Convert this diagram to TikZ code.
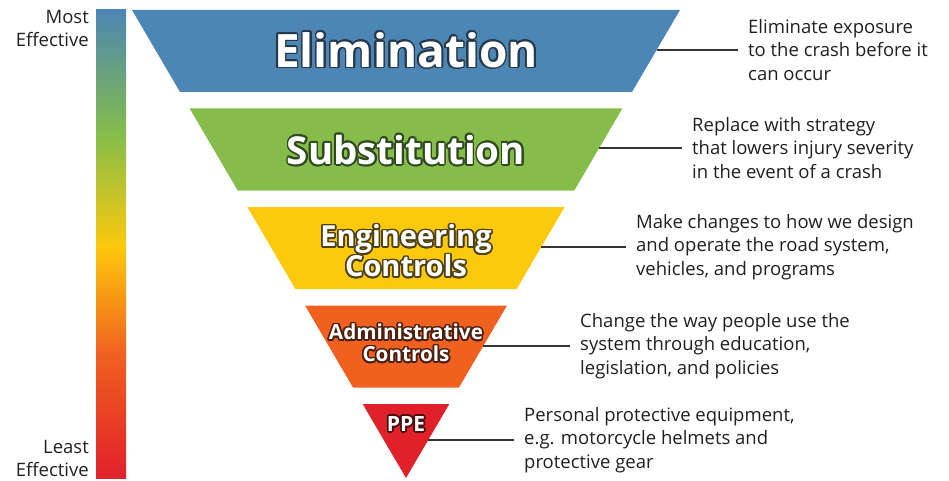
\documentclass[tikz,border=0pt]{standalone}
\usepackage{fontspec}
\setmainfont{Open Sans}
\usetikzlibrary{calc}
\definecolor{cblue}{HTML}{4C86B4}
\definecolor{cgreen}{HTML}{86BD4A}
\definecolor{cyellow}{HTML}{FDC90C}
\definecolor{corange}{HTML}{F0601F}
\definecolor{cred}{HTML}{E0212A}
\definecolor{oblue}{HTML}{26384A}
\definecolor{ogreen}{HTML}{2F4A1E}
\definecolor{oyellow}{HTML}{4D4215}
\definecolor{oorange}{HTML}{4A2010}
\definecolor{ored}{HTML}{4A1010}
\definecolor{txt}{HTML}{231F20}
\definecolor{linec}{HTML}{333333}
\newcommand\band[3]{%
  \fill[#3] ({132+0.5855*(#1-10)},#1) -- ({680-0.5855*(#1-10)},#1)
   -- ({680-0.5855*(#2-10)},#2) -- ({132+0.5855*(#2-10)},#2) -- cycle;}
\newcommand\titlenode[5]{% name, x, y, font, outline colour; text in \titletext
  \foreach \a in {0,20,...,340}
    \node[titletxt, font=#4, text=#5] at ($(#2,#3)+(\a:1.7pt)$) {\titletext};
  \node[titletxt, font=#4, text=white] (#1) at (#2,#3) {\titletext};}
\begin{document}
\begin{tikzpicture}[x=1pt,y=-1pt,
  desc/.style={anchor=west, inner xsep=10pt, inner ysep=0pt, align=left, text=txt,
    font=\fontsize{18.5}{23.5}\selectfont},
  side/.style={anchor=east, inner sep=0pt, align=right, text=txt,
    font=\fontsize{18.5}{23}\selectfont},
  conn/.style={draw=linec, line width=1.6pt},
  titletxt/.style={inner sep=0pt, align=center}]
\useasboundingbox (0,0) rectangle (949,481);
% effectiveness bar
\shade[top color=cblue, bottom color=cgreen] (96,10) rectangle (126,135);
\shade[top color=cgreen, bottom color=cyellow] (96,134.5) rectangle (126,247);
\shade[top color=cyellow, bottom color=corange] (96,246.5) rectangle (126,355);
\shade[top color=corange, bottom color=cred] (96,354.5) rectangle (126,478);
\node[side] (most) at (89,28.5) {Most\\Effective};
\node[side] (least) at (89,458.5) {Least\\Effective};
% bands
\band{10}{92}{cblue}
\band{108.5}{190.5}{cgreen}
\band{207}{289}{cyellow}
\band{305.5}{387.5}{corange}
\band{404}{478}{cred}
% titles
\def\titletext{Elimination}
\titlenode{t1}{406}{50}{\fontsize{46}{50}\selectfont\bfseries}{oblue}
\def\titletext{Substitution}
\titlenode{t2}{406}{150}{\fontsize{38.5}{42}\selectfont\bfseries}{ogreen}
\def\titletext{Engineering\\Controls}
\titlenode{t3}{406}{251}{\fontsize{29}{30}\selectfont\bfseries}{oyellow}
\def\titletext{Administrative\\Controls}
\titlenode{t4}{406}{343}{\fontsize{20.7}{22}\selectfont\bfseries}{oorange}
\def\titletext{PPE}
\titlenode{t5}{406}{424}{\fontsize{21}{22}\selectfont\bfseries}{ored}
% edge points
\coordinate (e1) at ({680-0.5855*(50-10)},50);
\coordinate (e2) at ({680-0.5855*(148-10)},148);
\coordinate (e3) at ({680-0.5855*(247-10)},247);
\coordinate (e4) at ({680-0.5855*(346-10)},346);
\coordinate (e5) at ({680-0.5855*(440-10)},440);
% descriptions
\node[desc] (d1) at (738,50) {Eliminate exposure\\to the crash before it\\can occur};
\node[desc] (d2) at (682,148) {Replace with strategy\\that lowers injury severity\\in the event of a crash};
\node[desc] (d3) at (626,247) {Make changes to how we design\\and operate the road system,\\vehicles, and programs};
\node[desc] (d4) at (570,346) {Change the way people use the\\system through education,\\legislation, and policies};
\node[desc] (d5) at (514,440) {Personal protective equipment,\\e.g. motorcycle helmets and\\protective gear};
\draw[conn] (e1) -- (d1.west);
\draw[conn] (e2) -- (d2.west);
\draw[conn] (e3) -- (d3.west);
\draw[conn] (e4) -- (d4.west);
\draw[conn] (e5) -- (d5.west);
\end{tikzpicture}
\end{document}
